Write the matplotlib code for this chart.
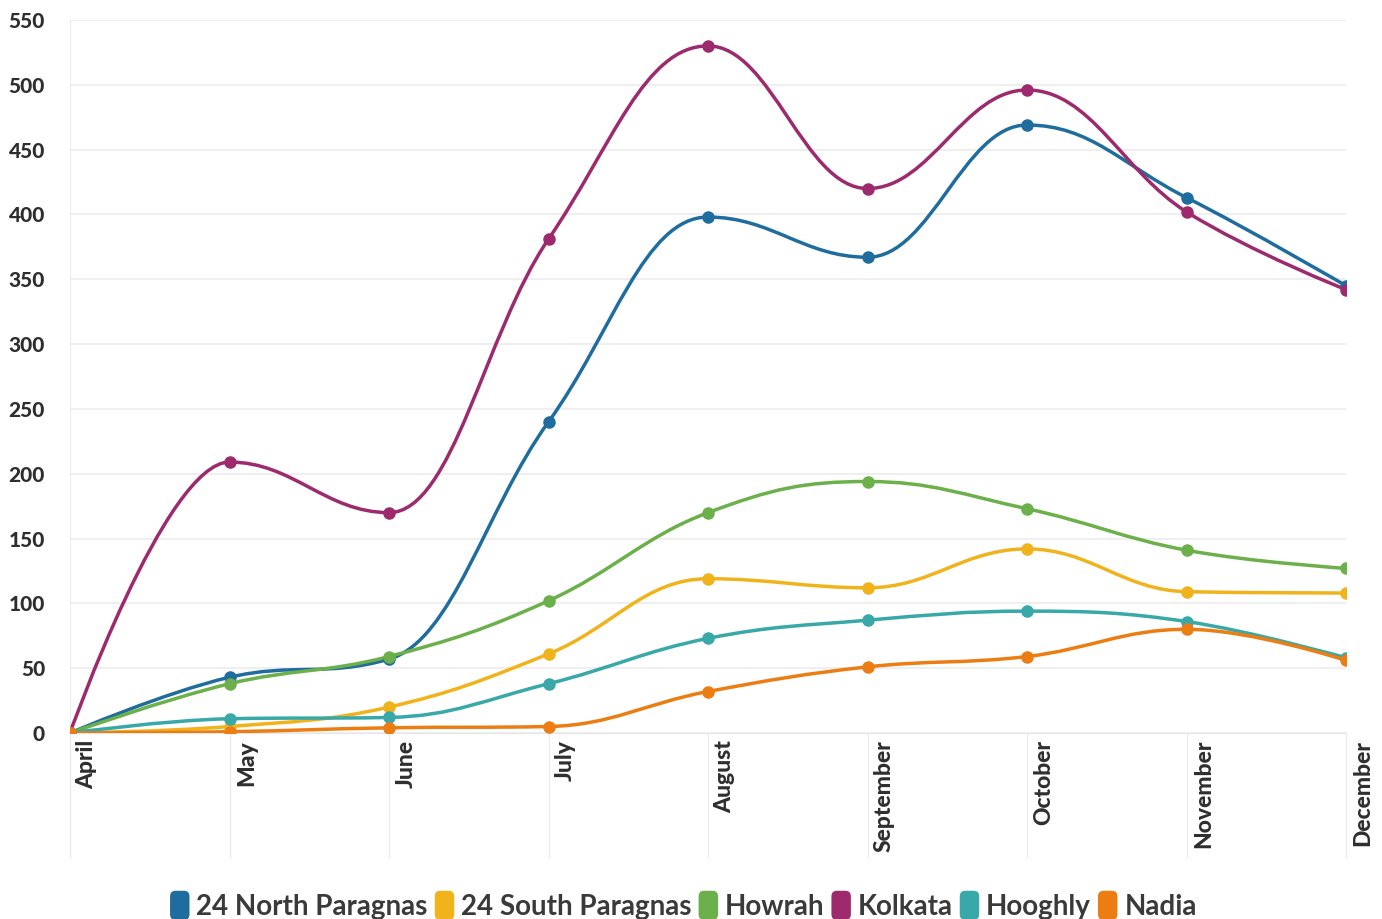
import matplotlib.pyplot as plt
from matplotlib.path import Path
from matplotlib.patches import PathPatch, FancyBboxPatch
from matplotlib.legend_handler import HandlerBase
import matplotlib.transforms as mtransforms

months = ["April", "May", "June", "July", "August", "September",
          "October", "November", "December"]

north_24 = [0, 43, 57, 240, 398, 367, 469, 413, 345]
south_24 = [0, 5, 20, 61, 119, 112, 142, 109, 108]
howrah = [0, 38, 59, 102, 170, 194, 173, 141, 127]
kolkata = [0, 209, 170, 381, 530, 420, 496, 402, 342]
hooghly = [0, 11, 12, 38, 73, 87, 94, 86, 58]
nadia = [0, 1, 4, 5, 32, 51, 59, 80, 56]

series_names = ["24 North Paragnas", "24 South Paragnas", "Howrah",
                "Kolkata", "Hooghly", "Nadia"]
series_values = [north_24, south_24, howrah, kolkata, hooghly, nadia]
series_colors = ["#1f6c9e", "#f0b31c", "#6bb04a", "#9c2a6c", "#38a8a8", "#ec7d13"]

SMOOTHING = 1.5


def spline_controls(xs, ys, i):
    """Left/right bezier control points around point i (spline smoothing)."""
    x, y = xs[i], ys[i]
    if i == 0 or i == len(xs) - 1:
        return (x, y), (x, y)
    lx, ly = xs[i - 1], ys[i - 1]
    nx, ny = xs[i + 1], ys[i + 1]
    d = SMOOTHING + 1
    lcx = (SMOOTHING * x + lx) / d
    lcy = (SMOOTHING * y + ly) / d
    rcx = (SMOOTHING * x + nx) / d
    rcy = (SMOOTHING * y + ny) / d
    if rcx != lcx:
        corr = (rcy - lcy) * (rcx - x) / (rcx - lcx) + y - rcy
        lcy += corr
        rcy += corr
    if lcy > max(ly, y):
        lcy = max(ly, y)
        rcy = 2 * y - lcy
    elif lcy < min(ly, y):
        lcy = min(ly, y)
        rcy = 2 * y - lcy
    if rcy > max(ny, y):
        rcy = max(ny, y)
        lcy = 2 * y - rcy
    elif rcy < min(ny, y):
        rcy = min(ny, y)
        lcy = 2 * y - rcy
    return (lcx, lcy), (rcx, rcy)


def spline_path(xs, ys):
    verts = [(xs[0], ys[0])]
    codes = [Path.MOVETO]
    ctrls = [spline_controls(xs, ys, i) for i in range(len(xs))]
    for i in range(1, len(xs)):
        verts += [ctrls[i - 1][1], ctrls[i][0], (xs[i], ys[i])]
        codes += [Path.CURVE4] * 3
    return Path(verts, codes)


class RoundSwatch(HandlerBase):
    def create_artists(self, legend, orig_handle, xdescent, ydescent,
                       width, height, fontsize, trans):
        w, h = 14, 21
        x0 = width - w
        y0 = (height - h) / 2 - ydescent
        p = FancyBboxPatch((x0, y0), w, h,
                           boxstyle="round,pad=0,rounding_size=4",
                           facecolor=orig_handle.get_facecolor(),
                           edgecolor="none", transform=trans)
        return [p]


plt.rcParams['font.family'] = ['Lato', 'DejaVu Sans']

fig = plt.figure(figsize=(13.82, 9.19), dpi=100)
ax = fig.add_axes([70 / 1382, 186 / 919, 1276 / 1382, 713 / 919])

x = list(range(len(months)))
for name, vals, col in zip(series_names, series_values, series_colors):
    ax.add_patch(PathPatch(spline_path(x, vals), facecolor="none",
                           edgecolor=col, lw=2.5, zorder=3,
                           capstyle="round", joinstyle="round"))
    ax.plot(x, vals, "o", color=col, ms=8, zorder=4, label=name)

ax.set_xlim(0, len(months) - 1)
ax.set_ylim(0, 550)
ax.set_yticks(range(0, 551, 50))
ax.grid(axis="y", color="#ececec", lw=1.2)
ax.set_axisbelow(True)
for s in ["top", "right"]:
    ax.spines[s].set_visible(False)
ax.spines["left"].set_color("#ececec")
ax.spines["bottom"].set_color("#e6e6e6")
ax.tick_params(axis="y", length=0, pad=18, labelsize=15, labelcolor="#2e2e2e")
for lbl in ax.get_yticklabels():
    lbl.set_fontweight("black")

# month tick lines hanging below the axis
ax.set_xticks(x)
ax.set_xticklabels([])
ax.tick_params(axis="x", direction="out", length=90, width=1, color="#ececec")

offset = mtransforms.ScaledTranslation(17 / 100, -7 / 100, fig.dpi_scale_trans)
for i, m in enumerate(months):
    ax.text(i, 0, m, rotation=90, ha="center", va="top", fontsize=16.5,
            fontweight="black", color="#2e2e2e",
            transform=ax.get_xaxis_transform() + offset)

handles = [FancyBboxPatch((0, 0), 1, 1, facecolor=c) for c in series_colors]
fig.legend(handles, series_names, loc="center", bbox_to_anchor=(0.494, 0.013),
           ncol=6, frameon=False, handler_map={FancyBboxPatch: RoundSwatch()},
           handlelength=0.75, handletextpad=0.25, columnspacing=0.2,
           prop={"size": 20, "weight": "bold"}, labelcolor="#3a3a3a")

fig.savefig("out.png", dpi=100, facecolor="white")
